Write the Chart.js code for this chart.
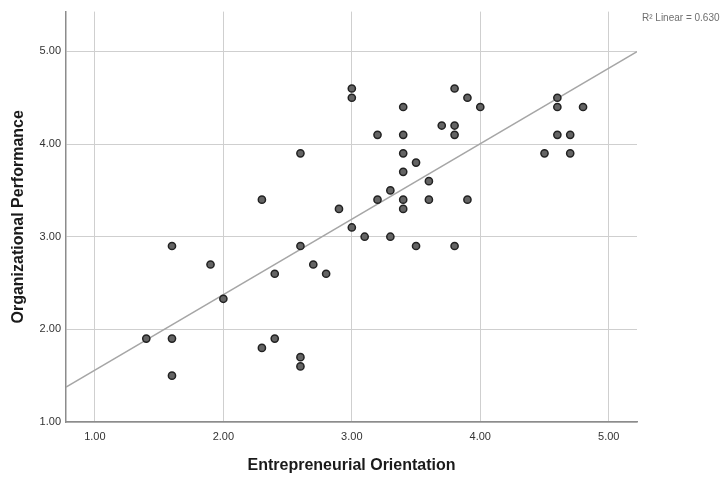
<!DOCTYPE html>
<html>
<head>
<meta charset="utf-8">
<script src="https://cdn.jsdelivr.net/npm/chart.js@4/dist/chart.umd.min.js"></script>
<style>
  html, body { margin: 0; padding: 0; background: #fff; }
  #wrap { width: 726px; height: 477px; }
</style>
</head>
<body>
<div id="wrap"><canvas id="scatter"></canvas></div>
<script>
// Entrepreneurial Orientation (x) vs Organizational Performance (y)
const eoValues = [
  1.4, 1.6, 1.6, 1.6, 1.9, 2.0, 2.3, 2.3, 2.4, 2.4,
  2.6, 2.6, 2.6, 2.6, 2.7, 2.8, 2.9, 3.0, 3.0, 3.0,
  3.1, 3.2, 3.2, 3.3, 3.3, 3.4, 3.4, 3.4, 3.4, 3.4,
  3.4, 3.5, 3.5, 3.6, 3.6, 3.7, 3.8, 3.8, 3.8, 3.8,
  3.9, 3.9, 4.0, 4.5, 4.6, 4.6, 4.6, 4.7, 4.7, 4.8
];
const opValues = [
  1.9, 2.9, 1.9, 1.5, 2.7, 2.33, 3.4, 1.8, 2.6, 1.9,
  3.9, 2.9, 1.7, 1.6, 2.7, 2.6, 3.3, 4.6, 4.5, 3.1,
  3.0, 4.1, 3.4, 3.5, 3.0, 4.4, 4.1, 3.9, 3.7, 3.4,
  3.3, 3.8, 2.9, 3.6, 3.4, 4.2, 4.6, 4.2, 4.1, 2.9,
  4.5, 3.4, 4.4, 3.9, 4.5, 4.4, 4.1, 4.1, 3.9, 4.4
];
const tickValues = [1, 2, 3, 4, 5];
const rSquaredLabel = 'R² Linear = 0.630';

// fit line as shown in the picture (many cases overlap, so it is read off, not refit)
const fitIntercept = 0.744;
const fitSlope = 0.815;

const xMin = 0.775, xMax = 5.22;
const yMin = 1.0, yMax = 5.43;

const fitPoints = [xMin, xMax].map(x => ({ x, y: fitIntercept + fitSlope * x }));
const points = eoValues.map((x, i) => ({ x, y: opValues[i] }));

const r2Plugin = {
  id: 'r2Label',
  afterDraw(chart) {
    const { ctx, chartArea } = chart;
    ctx.save();
    ctx.font = '10px "Liberation Sans", Arial, sans-serif';
    ctx.fillStyle = '#6e6e6e';
    ctx.textAlign = 'left';
    ctx.textBaseline = 'middle';
    ctx.fillText(rSquaredLabel, chartArea.right + 5, chartArea.top + 7);
    ctx.restore();
  }
};

const fontFamily = '"Liberation Sans", Arial, sans-serif';

new Chart(document.getElementById('scatter'), {
  type: 'scatter',
  data: {
    datasets: [
      {
        type: 'line',
        label: 'Fit',
        data: fitPoints,
        borderColor: '#a6a6a6',
        borderWidth: 1.5,
        pointRadius: 0,
        fill: false,
        order: 2
      },
      {
        label: 'Cases',
        data: points,
        backgroundColor: '#646464',
        borderColor: '#222',
        borderWidth: 1.5,
        pointRadius: 3.6,
        order: 1
      }
    ]
  },
  options: {
    responsive: true,
    maintainAspectRatio: false,
    animation: false,
    layout: { padding: { left: 0, right: 89, top: 10, bottom: 0 } },
    plugins: {
      legend: { display: false },
      tooltip: { enabled: false }
    },
    scales: {
      x: {
        type: 'linear',
        min: xMin,
        max: xMax,
        afterBuildTicks: (scale) => { scale.ticks = tickValues.map(v => ({ value: v })); },
        afterFit: (scale) => { scale.height = 55; },
        ticks: {
          includeBounds: false,
          padding: 8,
          color: '#333',
          font: { family: fontFamily, size: 11 },
          callback: (v) => Number(v).toFixed(2)
        },
        grid: { color: '#cfcfcf', lineWidth: 1, drawTicks: false },
        border: { color: '#8c8c8c', width: 1.5 },
        title: {
          display: true,
          text: 'Entrepreneurial Orientation',
          color: '#1a1a1a',
          font: { family: fontFamily, size: 16, weight: 'bold' },
          padding: { top: 0, bottom: 2 }
        }
      },
      y: {
        type: 'linear',
        min: yMin,
        max: yMax,
        afterBuildTicks: (scale) => { scale.ticks = tickValues.map(v => ({ value: v })); },
        afterFit: (scale) => { scale.width = 66; },
        ticks: {
          includeBounds: false,
          padding: 5,
          color: '#333',
          font: { family: fontFamily, size: 11 },
          callback: (v) => Number(v).toFixed(2)
        },
        grid: { color: '#cfcfcf', lineWidth: 1, drawTicks: false },
        border: { color: '#8c8c8c', width: 1.5 },
        title: {
          display: true,
          text: 'Organizational Performance',
          color: '#1a1a1a',
          font: { family: fontFamily, size: 16, weight: 'bold' },
          padding: { top: 9, bottom: 0 }
        }
      }
    }
  },
  plugins: [r2Plugin]
});
</script>
</body>
</html>
